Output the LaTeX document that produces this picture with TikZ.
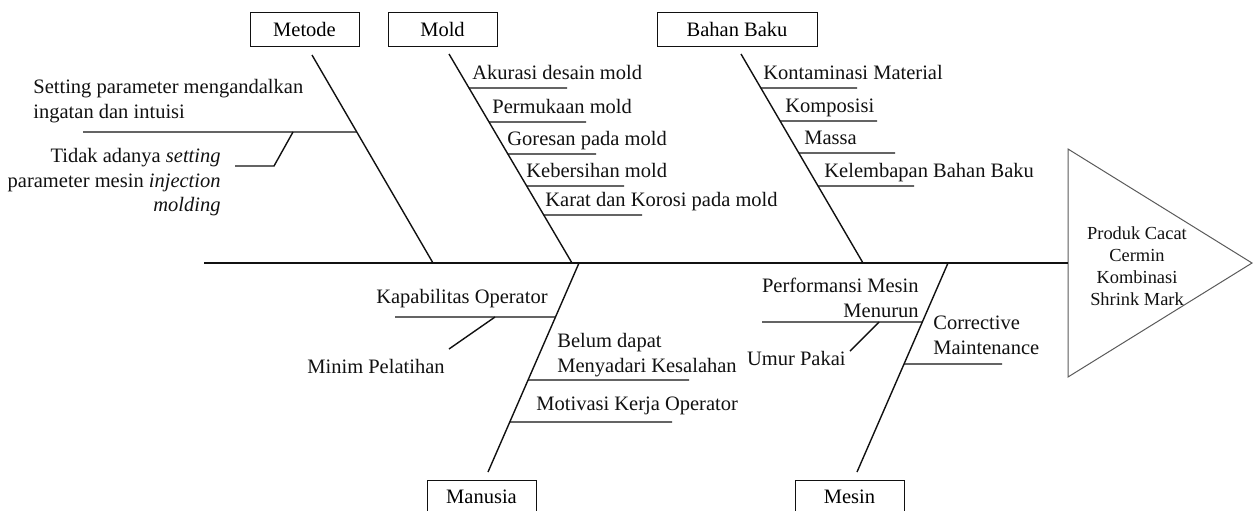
\documentclass[tikz,border=0pt]{standalone}
\usepackage{fontspec}
\setmainfont{Liberation Serif}
\usepackage{xcolor}
\usepackage{tikz}
\usetikzlibrary{calc}
\definecolor{fbink}{HTML}{111111}
\definecolor{fbgrey}{HTML}{5A5A5A}
\newcommand{\fbfont}{\fontsize{10.25}{12.25}\selectfont}
\tikzset{
  fbox/.style={rectangle, draw=fbink, line width=0.5pt, minimum width=54.5pt, minimum height=17pt, inner sep=0pt, font=\fbfont},
  fspine/.style={draw=fbink, line width=1pt},
  fbone/.style={draw=fbink, line width=0.7pt},
  ftwig/.style={draw=fbink, line width=0.7pt},
  fhead/.style={draw=fbgrey, line width=0.5pt},
  flabel/.style={inner sep=0pt, font=\fbfont, text=fbink},
  feffect/.style={inner sep=0pt, align=center, font=\fontsize{9.2}{11}\selectfont, text=fbink}
}

\begin{document}
\begin{tikzpicture}[x=0.5pt, y=-0.5pt]
  \useasboundingbox (0,0) rectangle (1253,510);
  \clip (0,0) rectangle (1253,510);
  % head and spine
  \coordinate (tail) at (204,263); \coordinate (head) at (1068,263);
  \coordinate (hTop) at (1068,149); \coordinate (hTip) at (1252,263); \coordinate (hBot) at (1068,377);
  \path[fhead] (hTop) -- (hTip) -- (hBot) -- cycle;
  \node[feffect] (effect) at (1137,266) {Produk Cacat\\Cermin\\Kombinasi\\Shrink Mark};
  \path[fspine] (tail) -- (head);
  % metode
  \node[fbox] (metode) at (304.5,29) {Metode};
  \coordinate (mtTop) at (312,55); \coordinate (mtEnd) at (433,263);
  \path[fbone] (mtTop) -- (mtEnd);
  \coordinate (mt1) at ($(mtTop)!{77/208}!(mtEnd)$); \coordinate (mt1a) at (83,132);
  \coordinate (mt2) at (293,132); \coordinate (mt2b) at (274,166); \coordinate (mt2a) at (235,166);
  \path[ftwig] (mt1a) -- (mt1);
  \path[ftwig] (mt2a) -- (mt2b) -- (mt2);
  \node[flabel, align=left, anchor=north west] (mtc1) at (33,79) {Setting parameter mengandalkan\\ingatan dan intuisi};
  \node[flabel, align=right, anchor=north east] (mtc2) at (221,148) {Tidak adanya \textit{setting}\\parameter mesin \textit{injection}\\\textit{molding}};
  % mold
  \node[fbox] (mold) at (442.5,29) {Mold};
  \coordinate (mdTop) at (449,54); \coordinate (mdEnd) at (572,263);
  \path[fbone] (mdTop) -- (mdEnd);
  \foreach \y/\r/\tx/\lbl [count=\i] in {88/567/472/Akurasi desain mold, 122/586/492/Permukaan mold,
      154/596/507/Goresan pada mold, 186/624/526/Kebersihan mold, 215/642/545/Karat dan Korosi pada mold}{
    \coordinate (md\i) at ($(mdTop)!{(\y-54)/209}!(mdEnd)$);
    \coordinate (md\i a) at (\r,\y);
    \path[ftwig] (md\i) -- (md\i a);
    \node[flabel, anchor=base west] (mdc\i) at (\tx,\y-9) {\lbl};
  }
  % bahan baku
  \node[fbox, minimum width=80pt] (bahan) at (737,29) {Bahan Baku};
  \coordinate (bbTop) at (741,54); \coordinate (bbEnd) at (863,263);
  \path[fbone] (bbTop) -- (bbEnd);
  \foreach \y/\r/\tx/\lbl [count=\i] in {88/857/763/Kontaminasi Material, 121/877/785/Komposisi,
      153/895/804/Massa, 186/914/824/Kelembapan Bahan Baku}{
    \coordinate (bb\i) at ($(bbTop)!{(\y-54)/209}!(bbEnd)$);
    \coordinate (bb\i a) at (\r,\y);
    \path[ftwig] (bb\i) -- (bb\i a);
    \node[flabel, anchor=base west] (bbc\i) at (\tx,\y-9) {\lbl};
  }
  % manusia
  \node[fbox] (manusia) at (481.5,497) {Manusia};
  \coordinate (mnTop) at (579,263); \coordinate (mnEnd) at (488,472);
  \path[fbone] (mnTop) -- (mnEnd);
  \coordinate (mn1) at ($(mnTop)!{54/209}!(mnEnd)$); \coordinate (mn1a) at (395,317);
  \coordinate (mn2) at (495,317); \coordinate (mn2a) at (449,349);
  \coordinate (mn3) at ($(mnTop)!{117/209}!(mnEnd)$); \coordinate (mn3a) at (689,380);
  \coordinate (mn4) at ($(mnTop)!{159/209}!(mnEnd)$); \coordinate (mn4a) at (672,422);
  \path[ftwig] (mn1a) -- (mn1);
  \path[ftwig] (mn2a) -- (mn2);
  \path[ftwig] (mn3) -- (mn3a);
  \path[ftwig] (mn4) -- (mn4a);
  \node[flabel, anchor=base east] (mnc1) at (548,303) {Kapabilitas Operator};
  \node[flabel, anchor=base west] (mnc2) at (307,373) {Minim Pelatihan};
  \node[flabel, align=left, anchor=north west] (mnc3) at (557,333) {Belum dapat\\Menyadari Kesalahan};
  \node[flabel, anchor=base west] (mnc4) at (536,410) {Motivasi Kerja Operator};
  % mesin
  \node[fbox] (mesin) at (849.5,497) {Mesin};
  \coordinate (msTop) at (948,263); \coordinate (msEnd) at (857,472);
  \path[fbone] (msTop) -- (msEnd);
  \coordinate (ms1) at ($(msTop)!{59/209}!(msEnd)$); \coordinate (ms1a) at (762,322);
  \coordinate (ms2) at (879,322); \coordinate (ms2a) at (850,351);
  \coordinate (ms3) at ($(msTop)!{101/209}!(msEnd)$); \coordinate (ms3a) at (1002,364);
  \path[ftwig] (ms1a) -- (ms1);
  \path[ftwig] (ms2a) -- (ms2);
  \path[ftwig] (ms3) -- (ms3a);
  \node[flabel, align=right, anchor=north east] (msc1) at (919,278) {Performansi Mesin\\Menurun};
  \node[flabel, anchor=base east] (msc2) at (846,365) {Umur Pakai};
  \node[flabel, align=left, anchor=north west] (msc3) at (933,316) {Corrective\\Maintenance};
\end{tikzpicture}
\end{document}
